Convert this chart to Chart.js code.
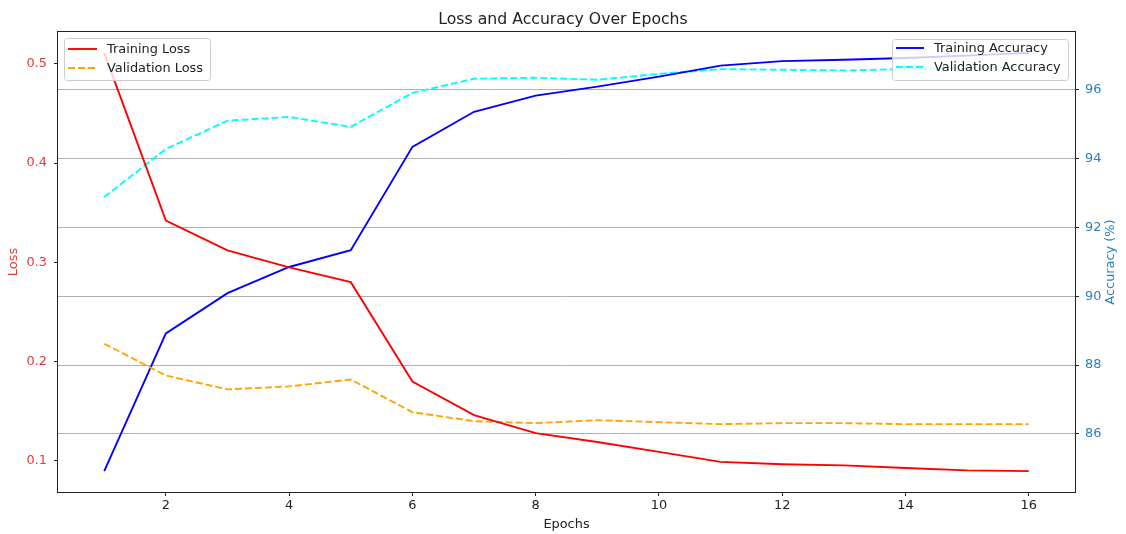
<!DOCTYPE html>
<html>
<head>
<meta charset="utf-8">
<script src="https://cdn.jsdelivr.net/npm/chart.js@4/dist/chart.umd.min.js"></script>
<style>
  html, body { margin: 0; padding: 0; background: #fff; }
  #wrap { width: 1126px; height: 534px; position: relative; }
</style>
</head>
<body>
<div id="wrap"><canvas id="c" width="1126" height="534"></canvas></div>
<script>
const epochs = [1,2,3,4,5,6,7,8,9,10,11,12,13,14,15,16];
const trainLoss = [0.511,0.342,0.312,0.295,0.280,0.180,0.146,0.128,0.119,0.109,0.099,0.0966,0.0955,0.0928,0.0904,0.0897];
const valLoss   = [0.218,0.186,0.172,0.175,0.182,0.149,0.140,0.138,0.141,0.139,0.137,0.138,0.138,0.137,0.137,0.137];
const trainAcc  = [84.92,88.92,90.09,90.85,91.34,94.34,95.36,95.83,96.09,96.38,96.70,96.83,96.87,96.92,96.99,97.07];
const valAcc    = [92.88,94.28,95.10,95.21,94.92,95.91,96.32,96.35,96.29,96.46,96.60,96.58,96.56,96.60,96.63,96.66];
const xTicks    = [2,4,6,8,10,12,14,16];
const lossTicks = [0.1,0.2,0.3,0.4,0.5];
const accTicks  = [86,88,90,92,94,96];

const FONT = "'DejaVu Sans', sans-serif";
const FS = 12.9;
const pts = arr => epochs.map((e,i) => ({x: e, y: arr[i]}));
function bounds(arrs){
  const all = [].concat(...arrs);
  const mn = Math.min(...all), mx = Math.max(...all), m = (mx-mn)*0.05;
  return [mn-m, mx+m];
}
const [lMin, lMax] = bounds([trainLoss, valLoss]);
const [aMin, aMax] = bounds([trainAcc, valAcc]);
const xM = (epochs[epochs.length-1]-epochs[0])*0.05;

const DASH = [7, 3];
const LW = 1.9;

const framePlugin = {
  id: 'frame',
  afterDatasetsDraw(chart) {
    const {ctx, chartArea: a} = chart;
    ctx.save();
    const ds = chart.data.datasets;
    function legend(x0, y0, w, h, items, lineX0, lineX1, textX, rowY) {
      ctx.fillStyle = 'rgba(255,255,255,0.8)';
      ctx.strokeStyle = '#cccccc';
      ctx.lineWidth = 1;
      ctx.beginPath();
      ctx.roundRect(x0 + 0.5, y0 + 0.5, w, h, 3);
      ctx.fill(); ctx.stroke();
      items.forEach((d, i) => {
        const y = rowY[i];
        ctx.strokeStyle = d.borderColor;
        ctx.lineWidth = d.borderWidth;
        ctx.setLineDash(d.borderDash || []);
        ctx.beginPath(); ctx.moveTo(lineX0, y); ctx.lineTo(lineX1, y); ctx.stroke();
        ctx.setLineDash([]);
        ctx.fillStyle = '#222';
        ctx.font = FS + "px " + FONT;
        ctx.textBaseline = 'middle';
        ctx.textAlign = 'left';
        ctx.fillText(d.label, textX, y + 1);
      });
    }
    legend(64, 38, 146, 42, [ds[0], ds[1]], 68, 97, 107, [49, 68]);
    legend(892, 39, 176, 41, [ds[2], ds[3]], 896, 924, 934, [48, 67]);
    ctx.strokeStyle = '#222';
    ctx.lineWidth = 1;
    ctx.strokeRect(Math.round(a.left) - 0.5, Math.round(a.top) - 0.5, Math.round(a.right - a.left) + 1, Math.round(a.bottom - a.top) + 1);
    ctx.save();
    ctx.translate(1111, (a.top + a.bottom) / 2);
    ctx.rotate(-Math.PI / 2);
    ctx.fillStyle = '#2a7fbf';
    ctx.font = FS + "px " + FONT;
    ctx.textAlign = 'center';
    ctx.textBaseline = 'middle';
    ctx.fillText('Accuracy (%)', 0, 0);
    ctx.restore();
    ctx.restore();
  }
};

new Chart(document.getElementById('c'), {
  type: 'line',
  data: {
    datasets: [
      {label: 'Training Loss', data: pts(trainLoss), yAxisID: 'yL', borderColor: '#ff0000', borderWidth: LW, pointRadius: 0, tension: 0},
      {label: 'Validation Loss', data: pts(valLoss), yAxisID: 'yL', borderColor: '#ffa500', borderWidth: LW, borderDash: DASH, pointRadius: 0, tension: 0},
      {label: 'Training Accuracy', data: pts(trainAcc), yAxisID: 'yR', borderColor: '#0000ff', borderWidth: LW, pointRadius: 0, tension: 0},
      {label: 'Validation Accuracy', data: pts(valAcc), yAxisID: 'yR', borderColor: '#00ffff', borderWidth: LW, borderDash: DASH, pointRadius: 0, tension: 0}
    ]
  },
  options: {
    responsive: false,
    animation: false,
    devicePixelRatio: 1,
    layout: {padding: 0},
    plugins: {
      legend: {display: false},
      tooltip: {enabled: false},
      title: {
        display: true,
        text: 'Loss and Accuracy Over Epochs',
        color: '#222',
        font: {family: FONT, size: 15.7, weight: 'normal'},
        padding: {top: 10.5, bottom: 2.66}
      }
    },
    scales: {
      x: {
        type: 'linear',
        min: epochs[0] - xM,
        max: epochs[epochs.length-1] + xM,
        afterBuildTicks: s => { s.ticks = xTicks.map(v => ({value: v})); },
        afterFit: s => { s.height = 42; },
        grid: {drawOnChartArea: false, tickLength: 4, tickColor: '#222', lineWidth: 1},
        border: {display: false},
        ticks: {color: '#222', font: {family: FONT, size: FS}, padding: 1.5, maxRotation: 0, autoSkip: false, callback: v => String(v)},
        title: {display: true, text: 'Epochs', color: '#222', font: {family: FONT, size: FS}, padding: {top: 0, bottom: 1.8}}
      },
      yL: {
        type: 'linear',
        position: 'left',
        min: lMin,
        max: lMax,
        afterBuildTicks: s => { s.ticks = lossTicks.map(v => ({value: v})); },
        afterFit: s => { s.width = 58; },
        grid: {drawOnChartArea: false, tickLength: 4, tickColor: '#222'},
        border: {display: false},
        ticks: {color: '#dc3c3c', font: {family: FONT, size: FS}, padding: 7, autoSkip: false, callback: v => v.toFixed(1)},
        title: {display: true, text: 'Loss', color: '#dc3c3c', font: {family: FONT, size: FS}, padding: {top: 6.3, bottom: 0}}
      },
      yR: {
        type: 'linear',
        position: 'right',
        min: aMin,
        max: aMax,
        afterBuildTicks: s => { s.ticks = accTicks.map(v => ({value: v})); },
        afterFit: s => { s.width = 51; },
        grid: {drawOnChartArea: true, color: '#b0b0b0', lineWidth: 1, tickLength: 4, tickColor: '#222'},
        border: {display: false},
        ticks: {color: '#2a7fbf', font: {family: FONT, size: FS}, padding: 6, autoSkip: false, callback: v => String(v)},
        title: {display: false}
      }
    }
  },
  plugins: [framePlugin]
});
</script>
</body>
</html>
